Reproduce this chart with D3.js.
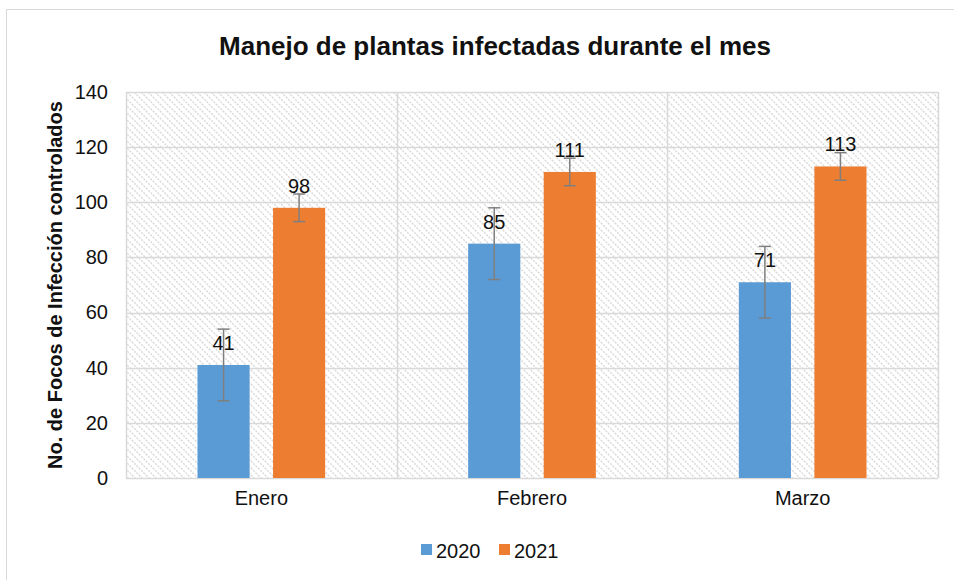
<!DOCTYPE html>
<html><head><meta charset="utf-8">
<script src="https://cdn.jsdelivr.net/npm/d3@7"></script>
<style>body{margin:0;background:#fff}svg{display:block;font-family:Arial,"Liberation Sans",sans-serif}</style>
</head><body>
<svg id="c" width="954" height="580"></svg>
<script>
const categories = ["Enero", "Febrero", "Marzo"];
const seriesNames = ["2020", "2021"];
const values2020 = [41, 85, 71];
const values2021 = [98, 111, 113];
const errors2020 = [13, 13, 13];
const errors2021 = [5, 5, 5];
const yTicks = [0, 20, 40, 60, 80, 100, 120, 140];
const colors = ["#5b9bd5", "#ed7d31"];

const svg = d3.select("#c");
const FONT = "Arial, 'Liberation Sans', sans-serif";
const m = {left: 126, top: 92, right: 938, bottom: 478};

svg.append("rect").attr("x", 6.5).attr("y", 9.5).attr("width", 960).attr("height", 590)
  .attr("fill", "#fff").attr("stroke", "#d9d9d9");

const defs = svg.append("defs");
const pat = defs.append("pattern").attr("id", "hatch").attr("patternUnits", "userSpaceOnUse")
  .attr("width", 7).attr("height", 7);
pat.append("rect").attr("width", 7).attr("height", 7).attr("fill", "#fff");
pat.append("path").attr("d", "M-1,-1 L8,8 M-1,6 L1,8 M6,-1 L8,1").attr("stroke", "#dadada")
  .attr("stroke-width", 1.4).attr("stroke-dasharray", "2,1.2");

const x0 = d3.scaleBand().domain(categories).range([m.left, m.right]).paddingInner(0).paddingOuter(0);
const x1 = d3.scaleBand().domain(seriesNames).range([71.5, x0.bandwidth() - 71.5]).paddingInner(0.31).paddingOuter(0);
const y = d3.scaleLinear().domain([0, 140]).range([m.bottom, m.top]);

svg.append("rect").attr("x", m.left).attr("y", m.top).attr("width", m.right - m.left)
  .attr("height", m.bottom - m.top).attr("fill", "url(#hatch)");

svg.append("g").selectAll("line").data(yTicks).join("line")
  .attr("x1", m.left).attr("x2", m.right)
  .attr("y1", d => Math.round(y(d)) + 0.5).attr("y2", d => Math.round(y(d)) + 0.5)
  .attr("stroke", "#d9d9d9").attr("stroke-width", 1.5);
const vlines = categories.map(c => x0(c)).concat([m.right]);
svg.append("g").selectAll("line").data(vlines).join("line")
  .attr("x1", d => Math.round(d) + 0.5).attr("x2", d => Math.round(d) + 0.5)
  .attr("y1", m.top).attr("y2", m.bottom)
  .attr("stroke", "#d9d9d9").attr("stroke-width", 1.5);

const data = categories.map((c, i) => ({c, vals: [
  {s: "2020", v: values2020[i], e: errors2020[i], k: 0},
  {s: "2021", v: values2021[i], e: errors2021[i], k: 1}
]}));

const g = svg.append("g").selectAll("g").data(data).join("g")
  .attr("transform", d => `translate(${x0(d.c)},0)`);

g.selectAll("rect").data(d => d.vals).join("rect")
  .attr("x", d => x1(d.s)).attr("width", x1.bandwidth())
  .attr("y", d => y(d.v)).attr("height", d => y(0) - y(d.v))
  .attr("fill", d => colors[d.k]);

g.selectAll("text.lbl").data(d => d.vals).join("text").attr("class", "lbl")
  .attr("x", d => x1(d.s) + x1.bandwidth() / 2).attr("y", d => y(d.v) - 15)
  .attr("text-anchor", "middle").attr("font-size", 20).attr("fill", "#111")
  .text(d => d.v);

const cx = d => x1(d.s) + x1.bandwidth() / 2;
const eb = g.selectAll("g.eb").data(d => d.vals).join("g").attr("class", "eb")
  .attr("stroke", "#7f7f7f").attr("stroke-width", 1.5);
eb.append("line").attr("x1", cx).attr("x2", cx)
  .attr("y1", d => y(d.v + d.e)).attr("y2", d => y(d.v - d.e));
eb.append("line").attr("x1", d => cx(d) - 6).attr("x2", d => cx(d) + 6)
  .attr("y1", d => y(d.v + d.e)).attr("y2", d => y(d.v + d.e));
eb.append("line").attr("x1", d => cx(d) - 6).attr("x2", d => cx(d) + 6)
  .attr("y1", d => y(d.v - d.e)).attr("y2", d => y(d.v - d.e));

const ya = svg.append("g").attr("transform", `translate(${m.left},0)`)
  .call(d3.axisLeft(y).tickValues(yTicks).tickSize(0).tickPadding(18));
ya.select(".domain").remove();
ya.selectAll("text").attr("font-size", 20).attr("fill", "#111").attr("font-family", FONT);

const xa = svg.append("g").attr("transform", `translate(0,${m.bottom})`)
  .call(d3.axisBottom(x0).tickSize(0).tickPadding(13));
xa.select(".domain").remove();
xa.selectAll("text").attr("font-size", 20).attr("fill", "#111").attr("font-family", FONT);

svg.append("text").attr("x", 495).attr("y", 55).attr("text-anchor", "middle")
  .attr("font-size", 26).attr("font-weight", "bold").attr("fill", "#111")
  .text("Manejo de plantas infectadas durante el mes");

svg.append("text").attr("transform", `translate(62,${(m.top + m.bottom) / 2}) rotate(-90)`)
  .attr("text-anchor", "middle").attr("font-size", 20).attr("font-weight", "bold").attr("fill", "#111")
  .text("No. de Focos de Infección controlados");

const leg = svg.append("g");
const legX = [421, 499];
seriesNames.forEach((s, i) => {
  leg.append("rect").attr("x", legX[i]).attr("y", 544).attr("width", 11).attr("height", 11).attr("fill", colors[i]);
  leg.append("text").attr("x", legX[i] + 15).attr("y", 558).attr("font-size", 20).attr("fill", "#111").text(s);
});
</script>
</body></html>
